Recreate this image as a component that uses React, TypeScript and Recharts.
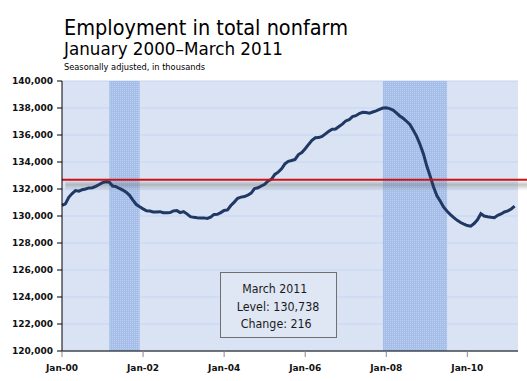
import React from "react";
import {
  ComposedChart,
  Line,
  XAxis,
  YAxis,
  CartesianGrid,
  ReferenceArea,
  ReferenceLine,
} from "recharts";

// total nonfarm employment, thousands, seasonally adjusted
const y2000 = [130780, 130900, 131380, 131660, 131880, 131840, 131950, 132000, 132080, 132100, 132200, 132330];
const y2001 = [132470, 132530, 132500, 132220, 132180, 132040, 131920, 131760, 131530, 131170, 130850, 130680];
const y2002 = [130530, 130390, 130370, 130300, 130290, 130320, 130240, 130240, 130250, 130380, 130400, 130250];
const y2003 = [130320, 130160, 129950, 129900, 129870, 129860, 129860, 129820, 129920, 130120, 130130, 130250];
const y2004 = [130410, 130450, 130780, 131030, 131310, 131400, 131440, 131540, 131700, 132030, 132090, 132220];
const y2005 = [132350, 132600, 132720, 133080, 133250, 133490, 133860, 134050, 134110, 134190, 134550, 134700];
const y2006 = [134980, 135300, 135600, 135790, 135810, 135890, 136080, 136270, 136430, 136440, 136630, 136800];
const y2007 = [137040, 137130, 137360, 137430, 137590, 137680, 137660, 137620, 137700, 137780, 137900, 138000];
const y2008 = [138020, 137950, 137850, 137640, 137410, 137240, 137020, 136780, 136350, 135900, 135300, 134600];
const y2009 = [133700, 132950, 132150, 131500, 131100, 130650, 130350, 130100, 129880, 129680, 129520, 129400];
const y2010 = [129290, 129250, 129440, 129720, 130170, 130000, 129940, 129900, 129880, 130050, 130150, 130300];
const y2011 = [130380, 130522, 130738];

const tickMonths = [0, 24, 48, 72, 96, 120];
const tickLabels = ["Jan-00", "Jan-02", "Jan-04", "Jan-06", "Jan-08", "Jan-10"];
const yTicks = [120000, 122000, 124000, 126000, 128000, 130000, 132000, 134000, 136000, 138000, 140000];

// recessions, month index from Jan 2000
const recessionStart = [14, 95];
const recessionEnd = [23, 114];

const refLevel = 132680;

const levels = [
  ...y2000, ...y2001, ...y2002, ...y2003, ...y2004, ...y2005,
  ...y2006, ...y2007, ...y2008, ...y2009, ...y2010, ...y2011,
];
const data = levels.map((v, i) => ({ m: i, level: v }));

const last = levels[levels.length - 1];
const change = last - levels[levels.length - 2];
const fmt = (n: number) => n.toLocaleString("en-US");

const font = "'DejaVu Sans', Verdana, sans-serif";

export default function App() {
  return (
    <div style={{ position: "absolute", left: 0, top: 0, width: 527, height: 381, background: "#fff" }}>
      <svg width={0} height={0} style={{ position: "absolute" }}>
        <defs>
          <pattern id="hatch" width={2} height={2} patternUnits="userSpaceOnUse">
            <rect width={2} height={2} fill="#a5bde9" />
            <rect width={1} height={1} fill="#bfcff0" />
          </pattern>
          <linearGradient id="shadow" x1="0" y1="0" x2="0" y2="1">
            <stop offset="0%" stopColor="#808080" stopOpacity={0.15} />
            <stop offset="35%" stopColor="#707070" stopOpacity={0.4} />
            <stop offset="100%" stopColor="#909090" stopOpacity={0} />
          </linearGradient>
        </defs>
      </svg>

      <ComposedChart
        width={527}
        height={381}
        data={data}
        margin={{ top: 81, right: 9, bottom: 0, left: 0 }}
      >
        <CartesianGrid vertical={false} fill="#dae3f3" stroke="#c3d5f4" strokeWidth={1} />
        {recessionStart.map((s, i) => (
          <ReferenceArea key={i} x1={s} x2={recessionEnd[i]} fill="url(#hatch)" fillOpacity={1} stroke="none" />
        ))}
        <XAxis
          type="number"
          dataKey="m"
          domain={[0, 135]}
          ticks={tickMonths}
          tickFormatter={(v) => tickLabels[tickMonths.indexOf(v)]}
          height={30}
          axisLine={{ stroke: "#000", strokeWidth: 1 }}
          tickLine={{ stroke: "#888" }}
          tickSize={6}
          tickMargin={8}
          tick={{ fontSize: 9, fontWeight: "bold", fontFamily: font, fill: "#111" }}
        />
        <YAxis
          domain={[120000, 140000]}
          ticks={yTicks}
          width={62}
          tickFormatter={(v) => fmt(v)}
          axisLine={{ stroke: "#000", strokeWidth: 1 }}
          tickLine={{ stroke: "#000" }}
          tickSize={5}
          tickMargin={4}
          tick={{ fontSize: 9, fontWeight: "bold", fontFamily: font, fill: "#111" }}
        />
        <Line
          type="linear"
          dataKey="level"
          stroke="#1f3864"
          strokeWidth={3}
          dot={false}
          isAnimationActive={false}
        />
        <ReferenceArea
          x1={1}
          x2={137.8}
          y1={refLevel - 120}
          y2={refLevel - 820}
          ifOverflow="visible"
          fill="url(#shadow)"
          fillOpacity={1}
          stroke="none"
        />
        <ReferenceLine
          segment={[{ x: 0, y: refLevel }, { x: 137.8, y: refLevel }]}
          ifOverflow="visible"
          stroke="#cc1111"
          strokeWidth={2}
        />
      </ComposedChart>

      <svg width={527} height={381} style={{ position: "absolute", left: 0, top: 0, pointerEvents: "none" }}>
        <text x={64} y={35} fontSize={22} fontFamily={font} fill="#000" textLength={284} lengthAdjust="spacingAndGlyphs">
          Employment in total nonfarm
        </text>
        <text x={64} y={55} fontSize={18.5} fontFamily={font} fill="#000" textLength={219} lengthAdjust="spacingAndGlyphs">
          January 2000–March 2011
        </text>
        <text x={64} y={70} fontSize={8.5} fontFamily={font} fill="#000" textLength={141} lengthAdjust="spacingAndGlyphs">
          Seasonally adjusted, in thousands
        </text>

        <rect x={220.5} y={272.5} width={116} height={65} fill="#dfe6f4" stroke="#707070" strokeWidth={1} />
        <text x={242.3} y={293} fontSize={12.5} fontFamily={font} fill="#1a1a1a" textLength={65} lengthAdjust="spacingAndGlyphs">
          March 2011
        </text>
        <text x={236.7} y={310.5} fontSize={12.5} fontFamily={font} fill="#1a1a1a" textLength={82.6} lengthAdjust="spacingAndGlyphs">
          {`Level: ${fmt(last)}`}
        </text>
        <text x={240.7} y={327.7} fontSize={12.5} fontFamily={font} fill="#1a1a1a" textLength={71} lengthAdjust="spacingAndGlyphs">
          {`Change: ${change}`}
        </text>
      </svg>
    </div>
  );
}
